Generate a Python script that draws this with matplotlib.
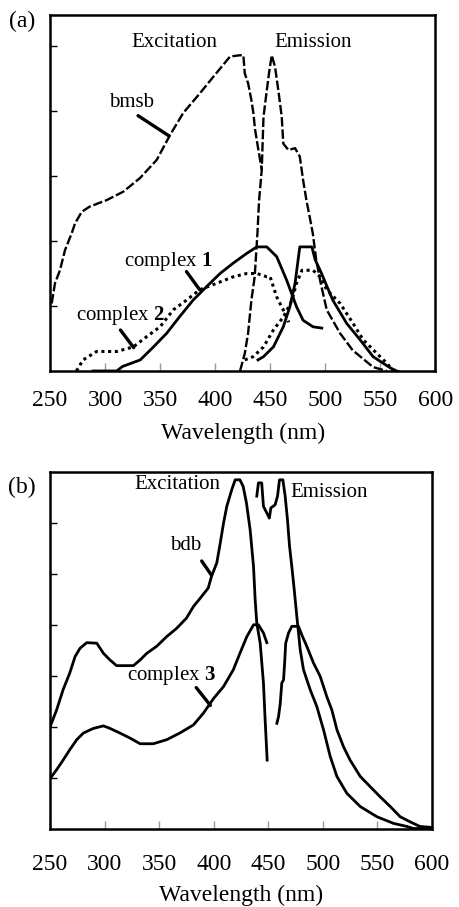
import numpy as np
import matplotlib
matplotlib.use('Agg')
import matplotlib.pyplot as plt

plt.rcParams['font.family'] = ['Liberation Serif', 'DejaVu Serif']
plt.rcParams['mathtext.fontset'] = 'custom'
plt.rcParams['mathtext.rm'] = 'Liberation Serif'
plt.rcParams['mathtext.bf'] = 'Liberation Serif:bold'

# ---- panel (a): bmsb, complex 1, complex 2 ----
bmsb_ex_x = [251.5, 254.5, 259, 263.6, 269.7, 272.7, 278.8, 286, 301.5, 316.6, 331.8, 347, 359, 371,
             386, 398.5, 413.6, 422.7, 425.7, 427, 430, 433, 434.8, 436.4, 439.4, 442.4]
bmsb_ex_y = [1.04, 1.35, 1.55, 1.86, 2.12, 2.27, 2.45, 2.53, 2.63, 2.76, 2.97, 3.25, 3.63, 3.97,
             4.27, 4.53, 4.84, 4.86, 4.86, 4.58, 4.43, 4.17, 3.97, 3.71, 3.40, 3.10]
bmsb_em_x = [422.7, 427, 430, 433, 436, 438.5, 440, 442.4, 444, 447, 449.4, 451.5, 454.5, 457.5,
             460.6, 462, 466.7, 472.7, 477, 480, 483, 486, 488.8, 492, 496, 501.5, 513.6, 525, 543.6, 556]
bmsb_em_y = [0.0, 0.27, 0.58, 1.09, 1.45, 2.12, 2.63, 3.09, 3.91, 4.32, 4.63, 4.86, 4.68, 4.32,
             3.91, 3.50, 3.40, 3.43, 3.30, 2.94, 2.63, 2.37, 2.12, 1.70, 1.35, 0.94, 0.58, 0.32, 0.06, 0.0]

c1_ex_x = [289, 310.6, 316, 332, 344, 356, 368, 380, 392.4, 404.5, 416.5, 428.8, 437.9, 447, 456,
           465, 474, 480, 489, 497]
c1_ex_y = [0.0, 0.0, 0.07, 0.17, 0.37, 0.58, 0.84, 1.09, 1.30, 1.50, 1.66, 1.81, 1.91, 1.91, 1.76,
           1.40, 0.99, 0.78, 0.68, 0.66]
c1_em_x = [439, 444, 453, 462, 468, 472.7, 477, 488, 491, 495.5, 507, 519.7, 531.8, 543.6, 559, 565, 570, 600]
c1_em_y = [0.17, 0.22, 0.37, 0.68, 0.99, 1.35, 1.91, 1.91, 1.71, 1.55, 1.09, 0.73, 0.48, 0.22, 0.05, 0.0,
           -0.03, -0.03]

c2_ex_x = [274, 280, 292.4, 310.6, 325.7, 338, 350, 362, 374, 386, 401.5, 416.6, 428.8, 438, 447,
           450, 456, 462, 467]
c2_ex_y = [0.0, 0.17, 0.30, 0.30, 0.37, 0.53, 0.68, 0.94, 1.09, 1.25, 1.35, 1.45, 1.50, 1.50, 1.45,
           1.45, 1.14, 0.94, 0.75]
c2_em_x = [427, 434.6, 444, 453, 462, 470, 474, 479, 489, 495.5, 501.5, 513.6, 525.5, 534.6, 547, 556, 562]
c2_em_y = [0.17, 0.22, 0.37, 0.63, 0.83, 1.09, 1.35, 1.55, 1.55, 1.45, 1.25, 1.04, 0.73, 0.48, 0.27,
           0.12, 0.0]

# ---- panel (b): bdb, complex 3 ----
bdb_ex_x = [250, 256, 262, 268, 273, 277.5, 283.6, 292.8, 299, 305, 311, 326.4, 332.5, 338.6, 347.8,
            357, 366, 375, 381.5, 387.6, 395, 398, 402.8, 406, 409, 412, 416.6, 419.7, 424, 427, 430,
            433.4, 436.5, 438, 439.5, 442.6, 445.6, 447, 449]
bdb_ex_y = [2.0, 2.33, 2.73, 3.05, 3.38, 3.54, 3.65, 3.64, 3.44, 3.31, 3.20, 3.20, 3.31, 3.44, 3.58,
            3.77, 3.93, 4.13, 4.36, 4.52, 4.72, 4.95, 5.21, 5.60, 5.99, 6.32, 6.65, 6.84, 6.84, 6.71, 6.39,
            5.86, 5.14, 4.49, 4.03, 3.64, 2.86, 2.20, 1.35]
bdb_em_x = [439.5, 441, 444, 445.6, 448.7, 451, 452.4, 456.3, 458.5, 460.3, 463.4, 465.5, 467.6, 469.5,
            471.6, 473.8, 476.2, 479.3, 482.3, 488.4, 494.5, 500.7, 506.8, 512.9, 522, 534.3, 549.6,
            564.8, 577, 583, 600]
bdb_em_y = [6.52, 6.78, 6.78, 6.32, 6.19, 6.09, 6.29, 6.35, 6.52, 6.84, 6.84, 6.52, 6.06, 5.54, 5.14,
            4.69, 4.16, 3.51, 3.12, 2.73, 2.40, 1.94, 1.42, 1.03, 0.70, 0.44, 0.24, 0.11, 0.05, 0.01, 0.01]

c3_ex_x = [251.5, 256, 262, 268, 274.5, 280.6, 289.7, 299, 305, 314, 323.4, 332.5, 344.7, 357, 369,
           381.5, 390.6, 400, 409, 418, 424, 430.4, 436.5, 441, 445.6, 448.7]
c3_ex_y = [1.03, 1.16, 1.35, 1.55, 1.75, 1.88, 1.97, 2.02, 1.97, 1.88, 1.78, 1.67, 1.67, 1.75, 1.88,
           2.04, 2.27, 2.56, 2.79, 3.12, 3.44, 3.77, 4.00, 4.00, 3.84, 3.65]
c3_em_x = [457.9, 459.4, 461, 462.4, 464, 465, 466, 468.6, 471.6, 477.7, 480.8, 485.3, 491.5, 497.6,
           503.7, 508.3, 513, 519, 525, 534.3, 543.4, 552.6, 561.8, 570.9, 580, 589, 600]
c3_em_y = [2.07, 2.20, 2.46, 2.86, 2.92, 3.25, 3.64, 3.84, 3.97, 3.97, 3.80, 3.58, 3.25, 2.99, 2.59,
           2.33, 1.94, 1.61, 1.35, 1.03, 0.83, 0.63, 0.44, 0.24, 0.14, 0.05, 0.03]

xticks = [250, 300, 350, 400, 450, 500, 550, 600]

fig = plt.figure(figsize=(4.59, 9.07), dpi=100)
ax1 = fig.add_axes([0.109, 0.591, 0.839, 0.3925])
ax2 = fig.add_axes([0.109, 0.086, 0.832, 0.394])

dash = (0, (4, 1.2))
dots = (0, (1.0, 1.2))
lw = 2.0

ax1.plot(bmsb_ex_x, bmsb_ex_y, color='black', lw=1.7, linestyle=dash)
ax1.plot(bmsb_em_x, bmsb_em_y, color='black', lw=1.7, linestyle=dash)
ax1.plot(c1_ex_x, c1_ex_y, color='black', lw=lw)
ax1.plot(c1_em_x, c1_em_y, color='black', lw=lw)
ax1.plot(c2_ex_x, c2_ex_y, color='black', lw=2.2, linestyle=dots)
ax1.plot(c2_em_x, c2_em_y, color='black', lw=2.2, linestyle=dots)

ax2.plot(bdb_ex_x, bdb_ex_y, color='black', lw=lw)
ax2.plot(bdb_em_x, bdb_em_y, color='black', lw=lw)
ax2.plot(c3_ex_x, c3_ex_y, color='black', lw=lw)
ax2.plot(c3_em_x, c3_em_y, color='black', lw=lw)

for ax, nt, top, pad, lpad in [(ax1, 6, 5.48, 14, 8), (ax2, 7, 7.0, 18, 7)]:
    ax.set_xticks(xticks)
    ax.set_yticks(range(1, nt))
    ax.set_yticklabels([])
    ax.set_xlim(250, 600)
    ax.set_ylim(0, top)
    ax.tick_params(axis='y', direction='in', length=5, width=1, left=True)
    ax.tick_params(axis='x', direction='in', length=6, width=1, color='#999999',
                   labelsize=17, pad=pad)
    for s in ax.spines.values():
        s.set_linewidth(1.8)
    ax.set_xlabel('Wavelength (nm)', fontsize=17, labelpad=lpad)


def leader(ax, x0, y0, x1, y1):
    ax.annotate('', xy=(x1, y1), xytext=(x0, y0),
                arrowprops=dict(arrowstyle='-', lw=2.4, color='black',
                                shrinkA=0, shrinkB=0))


# annotations (a)
fig.text(0.048, 0.976, '(a)', fontsize=17, ha='center', va='center')
ax1.text(363, 5.05, 'Excitation', fontsize=15, ha='center', va='center')
ax1.text(489, 5.05, 'Emission', fontsize=15, ha='center', va='center')
leader(ax1, 330, 3.93, 358, 3.62)
ax1.text(324, 4.13, 'bmsb', fontsize=15, ha='center', va='center')
leader(ax1, 374, 1.53, 386, 1.25)
ax1.text(357, 1.68, 'complex $\\mathbf{1}$', fontsize=15, ha='center', va='center')
leader(ax1, 314, 0.63, 326, 0.36)
ax1.text(314, 0.86, 'complex $\\mathbf{2}$', fontsize=15, ha='center', va='center')

# annotations (b)
fig.text(0.048, 0.463, '(b)', fontsize=17, ha='center', va='center')
ax2.text(367, 6.75, 'Excitation', fontsize=15, ha='center', va='center')
ax2.text(506, 6.59, 'Emission', fontsize=15, ha='center', va='center')
leader(ax2, 389, 5.25, 398, 4.97)
ax2.text(374, 5.56, 'bdb', fontsize=15, ha='center', va='center')
leader(ax2, 384, 2.77, 397, 2.42)
ax2.text(361, 3.0, 'complex $\\mathbf{3}$', fontsize=15, ha='center', va='center')

fig.savefig('out.png', dpi=100)
